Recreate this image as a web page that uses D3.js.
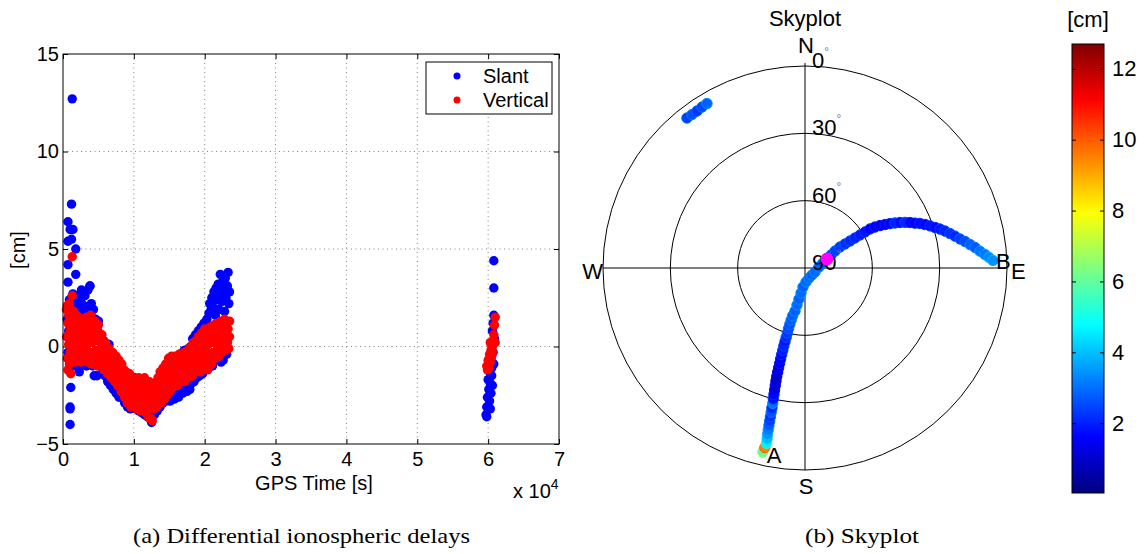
<!DOCTYPE html>
<html>
<head>
<meta charset="utf-8">
<script src="https://cdn.jsdelivr.net/npm/d3@7"></script>
<style>
  body { margin: 0; background: #fff; }
  svg { font-family: "Liberation Sans", Arial, sans-serif; }
</style>
</head>
<body>
<svg id="fig" width="1148" height="554"></svg>
<script>
// ---- data: left panel, [GPS time (x1e4 s), delay (cm)] ----
const slant = [
  [0.13,12.7],[0.12,7.3],[0.07,6.4],[0.10,6.0],[0.14,6.0],[0.07,5.4],[0.12,5.5],[0.18,5.0],[0.07,4.2],
  [0.07,3.3],[0.18,3.7],[0.38,3.1],[0.35,2.9],[0.10,-4.0],[0.10,-3.1],[0.10,-3.2],[0.11,-2.1],[0.23,-1.3],
  [0.44,-1.5],[0.48,-1.5],
  [0.06,1.4],[0.07,-0.3],[0.08,0.8],[0.09,2.4],[0.10,-0.9],[0.12,1.9],[0.14,2.7],[0.15,-1.0],[0.16,2.3],
  [0.17,0.5],[0.19,-0.9],[0.20,2.0],[0.21,2.6],[0.23,-0.5],[0.24,1.8],[0.25,2.3],[0.26,2.9],[0.27,-0.9],
  [0.28,1.6],[0.29,2.1],[0.30,-0.6],[0.31,2.6],[0.32,1.2],[0.33,-1.0],[0.34,2.0],[0.35,2.9],[0.36,-0.5],
  [0.37,1.8],[0.38,3.1],[0.39,-0.7],[0.40,2.2],[0.41,1.5],[0.42,-1.0],[0.43,1.9],[0.45,0.9],[0.46,1.4],
  [0.47,-0.9],[0.49,0.8],[0.50,1.3],[0.52,-0.8],[0.53,0.5],[0.55,-1.1],[0.57,0.3],[0.59,-1.5],[0.61,-0.1],
  [0.63,-1.8],[0.65,0.1],[0.67,-2.0],[0.69,-0.5],[0.71,-2.2],[0.73,-0.7],[0.75,-2.4],[0.77,-1.0],[0.79,-2.6],
  [0.81,-1.1],[0.83,-2.6],[0.85,-1.4],[0.87,-2.9],[0.89,-1.5],[0.91,-3.1],[0.93,-1.7],[0.95,-3.2],[0.97,-1.8],
  [0.99,-3.1],[1.01,-1.6],[1.03,-3.2],[1.05,-1.7],[1.07,-3.3],[1.09,-1.8],[1.11,-3.4],[1.13,-1.9],[1.15,-3.5],
  [1.17,-2.1],[1.19,-3.6],[1.21,-2.0],[1.23,-3.7],[1.25,-3.9],[1.27,-2.2],[1.29,-3.5],[1.31,-2.0],[1.33,-3.3],
  [1.35,-2.0],[1.37,-3.1],[1.39,-1.6],[1.41,-2.9],[1.43,-1.2],[1.45,-2.8],[1.47,-1.0],[1.49,-2.6],[1.51,-2.8],
  [1.53,-0.8],[1.55,-2.5],[1.57,-2.7],[1.59,-0.6],[1.61,-2.4],[1.63,-2.6],[1.65,-0.4],[1.67,-2.2],[1.69,-2.4],
  [1.71,-0.2],[1.73,-2.1],[1.75,-2.3],[1.77,-0.1],[1.79,-2.2],[1.81,-1.9],[1.83,0.4],[1.85,-1.8],[1.87,0.6],
  [1.89,-1.6],[1.91,0.8],[1.93,-1.5],[1.95,1.0],[1.97,-1.4],[1.99,1.2],[2.01,-1.2],[2.03,1.4],[2.05,-1.1],
  [2.06,1.7],[2.07,2.2],[2.08,-0.9],[2.09,1.9],[2.10,2.5],[2.11,-1.0],[2.12,2.0],[2.13,2.8],[2.14,-0.7],
  [2.15,1.6],[2.16,3.0],[2.17,2.4],[2.18,-0.6],[2.19,3.2],[2.20,1.9],[2.21,2.7],[2.22,3.7],[2.23,-0.8],
  [2.24,2.3],[2.25,3.3],[2.26,-0.7],[2.27,2.9],[2.28,1.8],[2.29,3.5],[2.30,2.5],[2.31,-0.4],[2.32,3.1],
  [2.33,3.8],[2.34,2.2],[2.35,2.8],
  [6.08,4.4],[6.08,3.0],[6.08,1.6],[6.07,1.2],[6.06,0.8],[6.09,0.4],[6.05,0.1],[6.07,-0.3],[6.04,-0.6],
  [6.08,-0.9],[6.02,-1.3],[6.05,-1.5],[6.00,-1.7],[6.03,-1.9],[6.01,-2.2],[6.04,-2.4],[5.99,-2.6],[6.02,-2.8],
  [5.98,-3.1],[6.03,-3.2],[5.97,-3.5],[5.98,-3.6],[6.06,-2.0],[6.05,-1.1]
];

const vertical = [
  [0.05,1.9],[0.05,0.5],[0.06,-0.6],[0.06,2.1],[0.07,1.2],[0.07,-1.2],[0.08,0.1],[0.08,1.6],[0.09,-0.9],
  [0.09,2.2],[0.10,0.8],[0.10,-0.3],[0.11,1.9],[0.11,-1.4],[0.12,0.4],[0.12,1.4],[0.13,4.6],[0.13,2.6],
  [0.13,-0.5],[0.14,1.0],[0.14,0.0],[0.15,1.8],[0.16,-0.8],[0.16,0.6],[0.17,1.3],[0.18,0.2],[0.18,-0.4],
  [0.19,1.6],[0.20,0.9],[0.21,-0.7],[0.21,0.3],[0.22,1.5],[0.23,0.6],[0.24,-0.2],[0.24,1.1],[0.25,-0.8],
  [0.26,0.4],[0.27,1.4],[0.28,-0.4],[0.28,0.9],[0.29,0.1],[0.30,1.2],[0.31,-0.6],[0.32,0.6],[0.33,1.5],
  [0.33,-0.1],[0.34,0.9],[0.35,-0.8],[0.36,0.3],[0.37,1.3],[0.38,-0.3],[0.38,0.7],[0.39,1.6],[0.40,-0.9],
  [0.41,0.2],[0.42,1.0],[0.43,-0.5],[0.44,0.5],[0.45,1.3],[0.46,-0.2],[0.47,0.8],[0.48,-1.0],[0.49,0.3],
  [0.50,1.1],[0.51,-0.6],[0.52,0.4],[0.53,-0.1],[0.54,-0.9],[0.55,0.6],[0.56,-0.4],[0.57,0.1],[0.58,-1.2],
  [0.59,-0.6],[0.60,0.2],[0.61,-1.0],[0.62,-0.3],[0.63,-1.4],[0.64,-0.7],[0.65,-0.1],[0.66,-1.2],[0.67,-0.5],
  [0.68,-1.6],[0.69,-0.9],[0.70,-0.3],[0.71,-1.4],[0.72,-0.8],[0.73,-1.8],[0.74,-1.1],[0.75,-0.5],[0.76,-1.6],
  [0.77,-2.0],[0.78,-1.0],[0.79,-0.7],[0.80,-1.9],[0.81,-1.3],[0.82,-2.3],[0.83,-0.9],[0.84,-1.6],[0.85,-2.2],
  [0.86,-1.2],[0.87,-2.6],[0.88,-1.8],[0.89,-1.3],[0.90,-2.4],[0.91,-2.9],[0.92,-1.7],[0.93,-2.2],[0.94,-1.4],
  [0.95,-2.7],[0.96,-3.1],[0.97,-2.0],[0.98,-1.6],[0.99,-2.5],[1.00,-3.0],[1.01,-2.2],[1.02,-1.7],[1.03,-2.7],
  [1.04,-3.2],[1.05,-2.0],[1.06,-2.5],[1.07,-1.6],[1.08,-2.9],[1.09,-3.3],[1.10,-2.3],[1.11,-1.8],[1.12,-2.7],
  [1.13,-3.1],[1.14,-2.1],[1.15,-1.6],[1.16,-2.5],[1.17,-3.4],[1.18,-2.9],[1.19,-2.0],[1.20,-3.6],[1.21,-2.4],
  [1.22,-1.8],[1.23,-3.0],[1.24,-3.7],[1.25,-2.6],[1.26,-3.8],[1.27,-2.1],[1.28,-3.2],[1.29,-2.8],[1.30,-1.9],
  [1.31,-2.5],[1.32,-3.1],[1.33,-2.2],[1.34,-1.6],[1.35,-2.7],[1.36,-2.0],[1.37,-1.3],[1.38,-2.4],[1.39,-2.9],
  [1.40,-1.7],[1.41,-1.1],[1.42,-2.2],[1.43,-2.7],[1.44,-1.5],[1.45,-0.9],[1.46,-2.0],[1.47,-2.5],[1.48,-1.3],
  [1.49,-0.6],[1.50,-1.8],[1.51,-2.3],[1.52,-1.0],[1.53,-0.5],[1.54,-1.5],[1.55,-2.1],[1.56,-0.8],[1.57,-1.3],
  [1.58,-0.5],[1.59,-1.8],[1.60,-1.1],[1.61,-0.6],[1.62,-2.0],[1.63,-1.4],[1.64,-0.4],[1.65,-0.9],[1.66,-1.7],
  [1.67,-1.2],[1.68,-0.5],[1.69,-1.5],[1.70,-0.9],[1.71,-0.3],[1.72,-1.8],[1.73,-1.1],[1.74,-0.6],[1.75,-1.4],
  [1.76,-0.2],[1.77,-0.9],[1.78,-1.6],[1.79,-0.5],[1.80,0.0],[1.81,-1.1],[1.82,-0.6],[1.83,-1.5],[1.84,0.2],
  [1.85,-0.3],[1.86,-0.9],[1.87,-1.3],[1.88,0.3],[1.89,-0.4],[1.90,-1.0],[1.91,0.5],[1.92,-0.1],[1.93,-0.7],
  [1.94,-1.3],[1.95,0.2],[1.96,0.7],[1.97,-0.4],[1.98,-1.0],[1.99,0.4],[2.00,0.9],[2.01,-0.2],[2.02,-0.8],
  [2.03,0.5],[2.04,-1.2],[2.05,0.1],[2.06,0.8],[2.07,-0.5],[2.08,1.0],[2.09,0.3],[2.10,-0.9],[2.11,0.6],
  [2.12,-0.3],[2.13,1.1],[2.14,0.2],[2.15,-0.6],[2.16,0.8],[2.17,1.2],[2.18,-0.1],[2.19,0.5],[2.20,-0.5],
  [2.21,1.0],[2.22,0.3],[2.23,1.3],[2.24,-0.3],[2.25,0.7],[2.26,1.1],[2.27,0.1],[2.28,1.4],[2.29,-0.2],
  [2.30,0.6],[2.31,1.2],[2.32,0.2],[2.33,0.9],[2.34,-0.1],[2.35,1.3],[2.35,0.5],
  [6.10,1.5],[6.09,1.1],[6.08,0.6],[6.07,0.3],[6.10,0.2],[6.06,0.0],[6.04,-0.2],[6.02,-0.4],[6.05,-0.5],
  [6.00,-0.7],[6.03,-0.8],[5.98,-1.0],[6.01,-1.1],[5.99,-1.2],[6.06,-0.3],[6.03,0.2]
];

const xTicks = [0, 1, 2, 3, 4, 5, 6, 7];
const yTicks = [-5, 0, 5, 10, 15];
const legendLabels = ["Slant", "Vertical"];

// ---- data: skyplot, [azimuth deg, elevation deg, delay cm] ----
const track1 = [
  [192.9,5.9,6.0],[192.6,8.0,9.5],[192.4,10.0,4.6],[192.5,12.0,3.9],[192.7,14.0,3.5],[192.8,16.0,3.1],
  [192.9,18.0,2.7],[193.0,20.0,2.4],[193.1,22.0,2.2],[193.2,24.0,2.6],[193.3,26.0,2.0],[193.4,28.0,3.0],
  [193.6,30.0,1.8],[193.8,32.0,1.6],[194.0,34.0,1.3],[194.2,36.0,1.1],[194.4,38.0,1.0],[194.6,40.0,0.9],
  [194.7,42.0,1.0],[194.8,44.0,1.2],[194.9,46.0,1.4],[195.0,48.0,1.5],[195.1,50.0,1.7],[195.1,52.0,1.9],
  [195.2,54.0,2.0],[195.2,56.0,1.8],[195.2,58.0,2.1],[195.2,60.0,2.3],[195.2,62.0,2.5],[195.1,64.0,2.6],
  [194.9,66.0,2.7],[194.5,68.0,2.8],[193.1,70.3,2.8],[192.2,73.1,2.9],[191.0,75.9,2.8],[189.1,78.7,2.9],
  [186.0,81.5,2.8],[175.9,83.8,2.9],[158.2,85.2,2.9],[135.0,85.6,2.8],[111.8,85.2,2.9],[85.9,83.8,2.8],
  [74.5,81.7,2.6],[67.8,79.4,2.7],[63.4,77.0,2.5],[60.5,74.6,2.4],[59.0,71.8,2.3],[59.0,69.2,2.2],
  [59.0,66.6,2.1],[59.0,64.0,2.0],[59.0,61.4,1.9],[59.0,58.8,1.8],[59.0,56.2,1.6],[59.6,53.9,1.5],
  [60.5,51.6,1.4],[61.5,49.4,1.5],[62.4,47.3,1.6],[63.4,45.2,2.0],[64.4,43.1,1.7],[65.5,41.0,2.1],
  [66.6,39.0,1.6],[67.8,37.1,1.5],[68.8,35.1,1.7],[70.1,33.1,1.6],[71.4,31.2,1.8],[72.7,29.3,1.7],
  [73.9,27.4,1.9],[75.2,25.5,2.0],[76.6,23.6,2.2],[78.0,21.7,2.1],[79.4,19.7,2.4],[80.6,17.7,2.5],
  [81.9,15.7,2.8],[83.1,13.7,2.7],[84.5,11.7,3.0],[85.7,9.6,3.1],[86.7,7.9,3.3],[87.7,6.2,3.4]
];
const track2 = [
  [321.8,4.95,2.4],[323.6,5.1,2.6],[325.5,5.1,2.3],[327.4,4.85,2.5],[329.2,4.7,2.8]
];
const highlight = [67.8, 79.4];          // magenta marker (az, el)
const ringElevations = [0, 30, 60];
const elevLabels = [0, 30, 60, 90];
const compass = [["N", 0], ["E", 90], ["S", 180], ["W", 270]];
const cbTicks = [2, 4, 6, 8, 10, 12];
const cbDomain = [0.03, 12.7];

const svg = d3.select('#fig');

// ================= left panel =================
const frame = { left: 63, right: 559, top: 54, bottom: 444 };
const x = d3.scaleLinear().domain([0, 7]).range([frame.left, frame.right]);
const y = d3.scaleLinear().domain([-5, 15]).range([frame.bottom, frame.top]);

const grid = svg.append('g')
  .attr('stroke', '#666').attr('stroke-width', 0.8).attr('stroke-dasharray', '1,3.5');
grid.selectAll('.gx').data(xTicks.slice(1, -1)).enter().append('line')
  .attr('x1', d => x(d)).attr('x2', d => x(d)).attr('y1', frame.top).attr('y2', frame.bottom);
grid.selectAll('.gy').data(yTicks.slice(1, -1)).enter().append('line')
  .attr('y1', d => y(d)).attr('y2', d => y(d)).attr('x1', frame.left).attr('x2', frame.right);

const styleAxis = g => {
  g.select('.domain').remove();
  g.selectAll('text').attr('font-size', 20).attr('fill', '#000')
    .attr('font-family', '"Liberation Sans", Arial, sans-serif');
};
svg.append('g').attr('transform', 'translate(0,' + frame.bottom + ')')
  .call(d3.axisBottom(x).tickValues(xTicks).tickSize(-5).tickPadding(8).tickFormat(d3.format('d')))
  .call(styleAxis);
svg.append('g').attr('transform', 'translate(0,' + frame.top + ')')
  .call(d3.axisTop(x).tickValues(xTicks).tickSize(-5).tickFormat(''))
  .call(styleAxis);
svg.append('g').attr('transform', 'translate(' + frame.left + ',0)')
  .call(d3.axisLeft(y).tickValues(yTicks).tickSize(-5).tickPadding(4))
  .call(styleAxis);
svg.append('g').attr('transform', 'translate(' + frame.right + ',0)')
  .call(d3.axisRight(y).tickValues(yTicks).tickSize(-5).tickFormat(''))
  .call(styleAxis);

svg.append('g').selectAll('circle').data(slant).enter().append('circle')
  .attr('cx', d => x(d[0])).attr('cy', d => y(d[1])).attr('r', 4.7).attr('fill', '#0000ff');
svg.append('g').selectAll('circle').data(vertical).enter().append('circle')
  .attr('cx', d => x(d[0])).attr('cy', d => y(d[1])).attr('r', 4.7).attr('fill', '#ff0000');

svg.append('rect')
  .attr('x', frame.left).attr('y', frame.top)
  .attr('width', frame.right - frame.left).attr('height', frame.bottom - frame.top)
  .attr('fill', 'none').attr('stroke', '#000').attr('stroke-width', 1);

// legend
const legend = svg.append('g');
legend.append('rect').attr('x', 426).attr('y', 62).attr('width', 126).attr('height', 52)
  .attr('fill', '#fff').attr('stroke', '#000');
legendLabels.forEach((lab, i) => {
  legend.append('circle').attr('cx', 457).attr('cy', 76 + i * 24).attr('r', 3.5)
    .attr('fill', i === 0 ? '#0000ff' : '#ff0000');
  legend.append('text').attr('x', 483).attr('y', 83 + i * 24).attr('font-size', 20).text(lab);
});

svg.append('text').attr('x', 314).attr('y', 490).attr('text-anchor', 'middle')
  .attr('font-size', 20).text('GPS Time [s]');
const mult = svg.append('text').attr('x', 513).attr('y', 498).attr('font-size', 20);
mult.append('tspan').text('x 10');
mult.append('tspan').attr('font-size', 14).attr('dy', -9).text('4');
svg.append('text').attr('transform', 'translate(25,250) rotate(-90)')
  .attr('text-anchor', 'middle').attr('font-size', 20).text('[cm]');

// ================= skyplot =================
const cx = 805, cy = 268, R = 202;
const rScale = d3.scaleLinear().domain([90, 0]).range([0, R]);
const px = (az, el) => cx + rScale(el) * Math.sin(az * Math.PI / 180);
const py = (az, el) => cy - rScale(el) * Math.cos(az * Math.PI / 180);

const jet = [[0, '#000080'], [0.125, '#0000ff'], [0.375, '#00ffff'], [0.625, '#ffff00'], [0.875, '#ff0000'], [1, '#800000']];
const color = d3.scaleLinear()
  .domain(jet.map(s => cbDomain[0] + s[0] * (cbDomain[1] - cbDomain[0])))
  .range(jet.map(s => s[1]))
  .interpolate(d3.interpolateRgb);

const sky = svg.append('g');
sky.selectAll('.ring').data(ringElevations).enter().append('circle')
  .attr('cx', cx).attr('cy', cy).attr('r', d => rScale(d))
  .attr('fill', 'none').attr('stroke', '#000').attr('stroke-width', 1);
sky.append('line').attr('x1', cx).attr('x2', cx).attr('y1', cy - R - 3).attr('y2', cy + R)
  .attr('stroke', '#000');
sky.append('line').attr('x1', cx - R).attr('x2', cx + R).attr('y1', cy).attr('y2', cy)
  .attr('stroke', '#000');

const drawTrack = data => sky.append('g').selectAll('circle').data(data).enter().append('circle')
  .attr('cx', d => px(d[0], d[1])).attr('cy', d => py(d[0], d[1])).attr('r', 5.2)
  .attr('fill', d => color(d[2]))
  .attr('stroke', d => d3.color(color(d[2] + 0.5)).formatHex())
  .attr('stroke-width', 1);
drawTrack(track1);
drawTrack(track2);

elevLabels.forEach(el => {
  const t = sky.append('text').attr('x', cx + 7).attr('y', cy - rScale(el) + 2).attr('font-size', 22);
  t.append('tspan').text(el);
  t.append('tspan').attr('font-size', 12).attr('fill', '#777').attr('dy', -12).text('°');
});

sky.append('circle').attr('cx', px(highlight[0], highlight[1])).attr('cy', py(highlight[0], highlight[1]))
  .attr('r', 6.5).attr('fill', '#ff00ff');

const compassPos = {
  N: { x: cx + 1, y: 53, a: 'middle' }, S: { x: cx + 1, y: 494, a: 'middle' },
  W: { x: cx - R, y: 279, a: 'end' }, E: { x: cx + R + 4, y: 279, a: 'start' }
};
compass.forEach(([lab]) => {
  const p = compassPos[lab];
  sky.append('text').attr('x', p.x).attr('y', p.y).attr('text-anchor', p.a)
    .attr('font-size', 22).text(lab);
});
sky.append('text').attr('x', px(track1[0][0], track1[0][1]) + 4).attr('y', 463).attr('font-size', 22).text('A');
sky.append('text').attr('x', px(track1[track1.length - 1][0], track1[track1.length - 1][1]) + 3)
  .attr('y', 269).attr('font-size', 22).text('B');

svg.append('text').attr('x', cx).attr('y', 26).attr('text-anchor', 'middle')
  .attr('font-size', 22).text('Skyplot');

// ================= colorbar =================
const cb = { left: 1072, right: 1104, top: 44, bottom: 493 };
const cbY = d3.scaleLinear().domain(cbDomain).range([cb.bottom, cb.top]);
const grad = svg.append('defs').append('linearGradient').attr('id', 'jet')
  .attr('x1', 0).attr('y1', 1).attr('x2', 0).attr('y2', 0);
jet.forEach(s => grad.append('stop').attr('offset', s[0]).attr('stop-color', s[1]));
svg.append('rect').attr('x', cb.left).attr('y', cb.top)
  .attr('width', cb.right - cb.left).attr('height', cb.bottom - cb.top)
  .attr('fill', 'url(#jet)').attr('stroke', '#000').attr('stroke-width', 1);
svg.append('g').attr('transform', 'translate(' + cb.right + ',0)')
  .call(d3.axisRight(cbY).tickValues(cbTicks).tickSize(-4).tickPadding(8))
  .call(g => {
    g.select('.domain').remove();
    g.selectAll('text').attr('font-size', 22).attr('fill', '#000')
      .attr('font-family', '"Liberation Sans", Arial, sans-serif');
  });
svg.append('g').attr('transform', 'translate(' + cb.left + ',0)')
  .call(d3.axisLeft(cbY).tickValues(cbTicks).tickSize(-4).tickFormat(''))
  .call(g => g.select('.domain').remove());
svg.append('text').attr('x', 1088).attr('y', 27).attr('text-anchor', 'middle')
  .attr('font-size', 22).text('[cm]');

// ================= captions =================
svg.append('text').attr('x', 133).attr('y', 543)
  .attr('font-family', '"Liberation Serif", "Times New Roman", serif').attr('font-size', 21)
  .attr('textLength', 337).attr('lengthAdjust', 'spacingAndGlyphs')
  .text('(a) Differential ionospheric delays');
svg.append('text').attr('x', 805).attr('y', 543)
  .attr('font-family', '"Liberation Serif", "Times New Roman", serif').attr('font-size', 21)
  .attr('textLength', 114).attr('lengthAdjust', 'spacingAndGlyphs')
  .text('(b) Skyplot');
</script>
</body>
</html>
